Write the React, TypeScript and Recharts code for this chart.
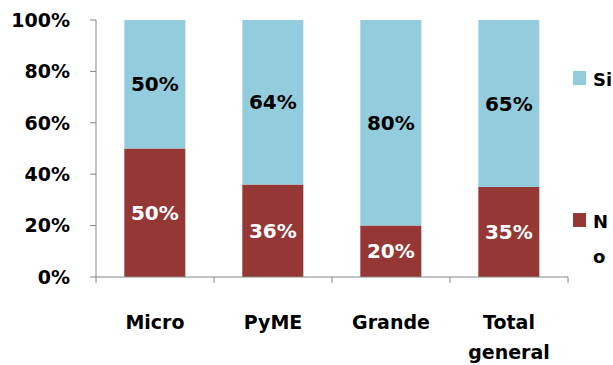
import { BarChart, Bar, XAxis, YAxis, Legend, LabelList } from "recharts";

const CATEGORIES = ["Micro", "PyME", "Grande", "Total general"];
const NO_VALUES = [50, 36, 20, 35];
const SI_VALUES = [50, 64, 80, 65];
const Y_TICKS = [0, 20, 40, 60, 80, 100];

const SI_COLOR = "#93cddd";
const NO_COLOR = "#953735";
const AXIS = "#868686";
const FONT = "'DejaVu Sans', sans-serif";

const data = CATEGORIES.map((c, i) => ({ name: c, no: NO_VALUES[i], si: SI_VALUES[i] }));

const pct = (v: any) => `${v}%`;

// excel-style: tick marks sit on category boundaries, labels wrap by word
function CategoryTick(props: any) {
  const { x, y, payload, index, visibleTicksCount, width } = props;
  const half = payload?.offset ?? width / visibleTicksCount / 2;
  const words = String(payload.value).split(" ");
  return (
    <g>
      <line x1={x - half} x2={x - half} y1={y} y2={y + 6} stroke={AXIS} />
      {index === visibleTicksCount - 1 && (
        <line x1={x + half} x2={x + half} y1={y} y2={y + 6} stroke={AXIS} />
      )}
      <text x={x} y={y + 52} textAnchor="middle" fill="#000" fontFamily={FONT} fontWeight="bold" fontSize={19}>
        {words.map((w, i) => (
          <tspan key={w} x={x} dy={i === 0 ? 0 : 30}>{w}</tspan>
        ))}
      </text>
    </g>
  );
}

// legend column is narrow, so "No" breaks onto two lines like the original
function SideLegend() {
  const item = (color: string, label: string, top: number) => (
    <div style={{ position: "absolute", top, left: 0, display: "flex", alignItems: "flex-start" }}>
      <span style={{ flex: "none", width: 13, height: 14, background: color, marginTop: 9, marginRight: 7 }} />
      <span style={{ width: 22, wordBreak: "break-all", lineHeight: "35px", fontFamily: FONT, fontWeight: "bold", fontSize: 18, color: "#000" }}>
        {label}
      </span>
    </div>
  );
  return (
    <div style={{ position: "relative", width: 40, height: 300 }}>
      {item(SI_COLOR, "Si", 0)}
      {item(NO_COLOR, "No", 142)}
    </div>
  );
}

export default function App() {
  return (
    <div style={{ width: 613, height: 365, background: "#fff" }}>
      <style>{`body{margin:0}`}</style>
      <BarChart
        width={613}
        height={365}
        data={data}
        margin={{ top: 20, right: 5, bottom: 0, left: 0 }}
        barCategoryGap="24%"
      >
        <XAxis
          dataKey="name"
          height={88}
          axisLine={{ stroke: AXIS }}
          tickLine={false}
          tickSize={0}
          tickMargin={0}
          interval={0}
          tick={<CategoryTick />}
        />
        <YAxis
          width={96}
          domain={[0, 100]}
          ticks={Y_TICKS}
          tickFormatter={pct}
          axisLine={{ stroke: AXIS }}
          tickLine={{ stroke: AXIS }}
          tickSize={6}
          tickMargin={20}
          tick={{ fill: "#000", fontFamily: FONT, fontWeight: "bold", fontSize: 19 }}
        />
        <Legend
          layout="vertical"
          align="right"
          verticalAlign="top"
          content={<SideLegend />}
          wrapperStyle={{ position: "absolute", left: 573, top: 62, width: 40 }}
        />
        <Bar dataKey="no" name="No" stackId="a" fill={NO_COLOR} isAnimationActive={false}>
          <LabelList dataKey="no" position="center" formatter={pct} fill="#fff" fontFamily={FONT} fontWeight="bold" fontSize={20} />
        </Bar>
        <Bar dataKey="si" name="Si" stackId="a" fill={SI_COLOR} isAnimationActive={false}>
          <LabelList dataKey="si" position="center" formatter={pct} fill="#000" fontFamily={FONT} fontWeight="bold" fontSize={20} />
        </Bar>
      </BarChart>
    </div>
  );
}
